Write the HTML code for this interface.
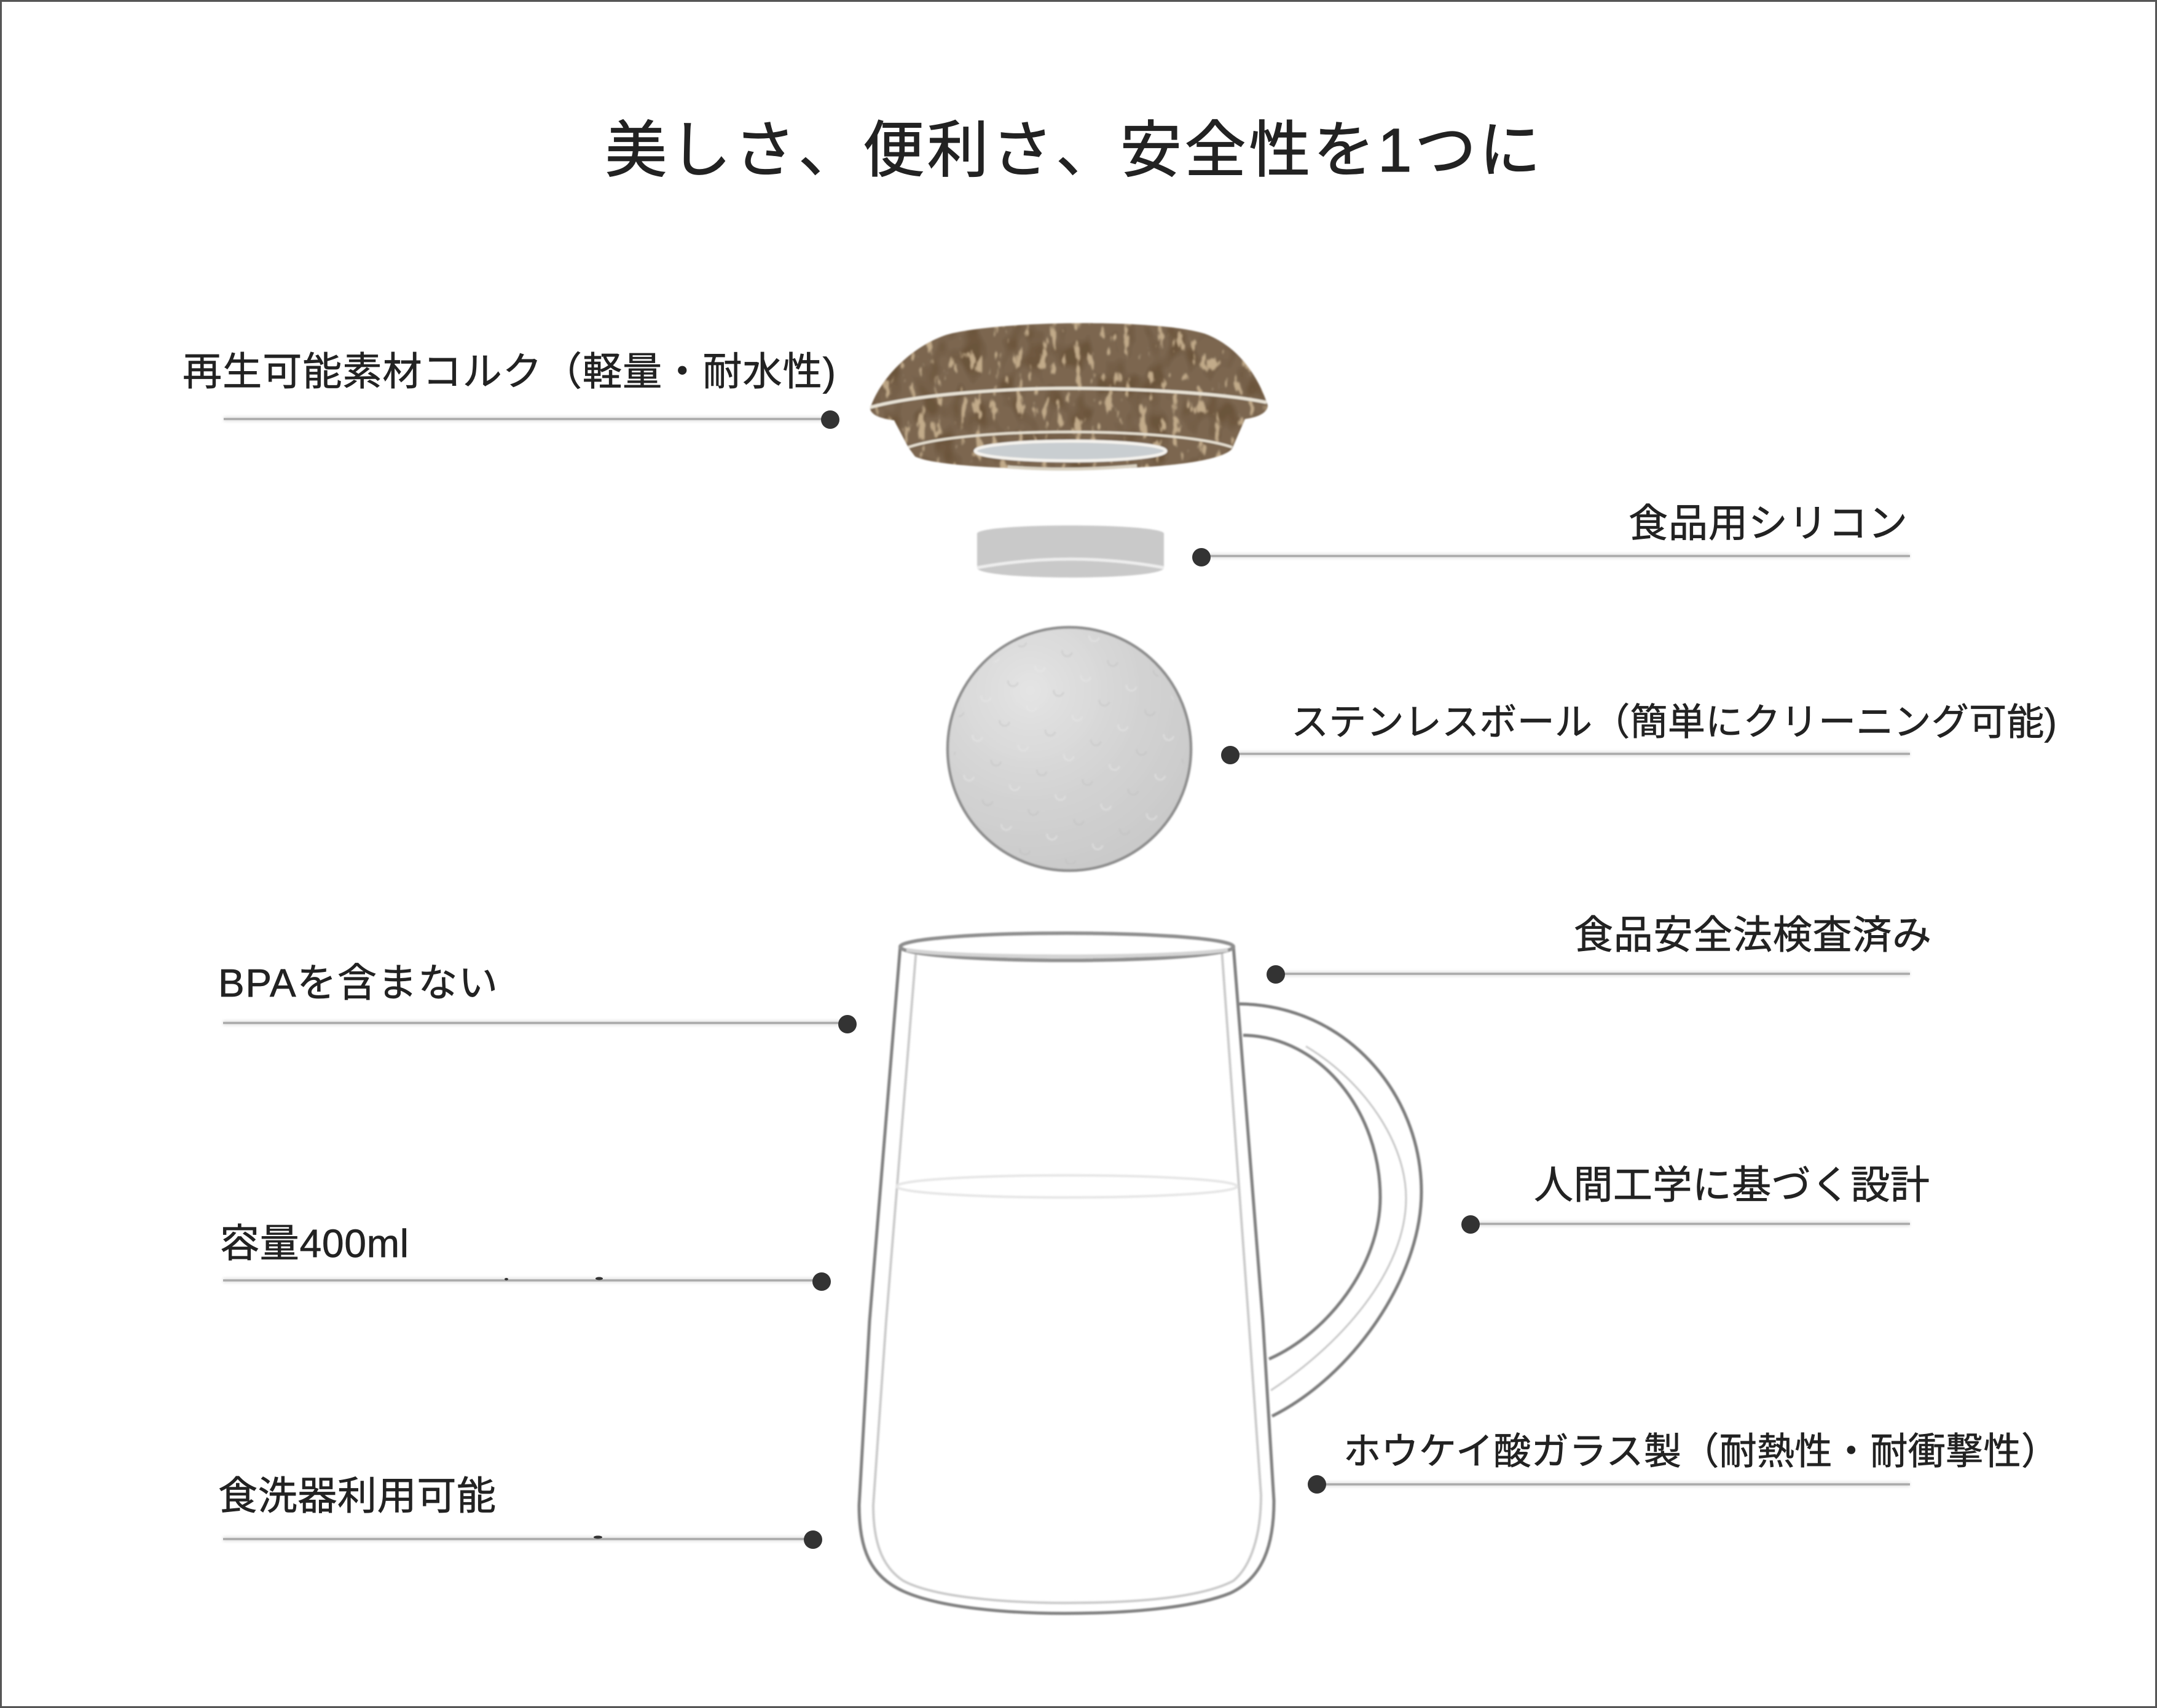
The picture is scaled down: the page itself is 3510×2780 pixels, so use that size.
<!DOCTYPE html>
<html lang="ja">
<head>
<meta charset="utf-8">
<title>美しさ、便利さ、安全性を1つに</title>
<style>
html,body{margin:0;padding:0;background:#fff;width:3510px;height:2780px;overflow:hidden}
svg{display:block}
text{font-family:"Liberation Sans","Noto Sans CJK JP",sans-serif;fill:#222;stroke:#222;stroke-width:.7px}
</style>
</head>
<body>
<svg xmlns="http://www.w3.org/2000/svg" width="3510" height="2780" viewBox="0 0 3510 2780">
<defs>
<filter id="soft" x="-5%" y="-5%" width="110%" height="110%"><feGaussianBlur stdDeviation="1.2"/></filter>
<filter id="halo" x="-1%" y="-400%" width="102%" height="900%"><feGaussianBlur stdDeviation="2.5"/></filter>
<filter id="fleck" x="0" y="0" width="100%" height="100%" color-interpolation-filters="sRGB">
<feTurbulence type="fractalNoise" baseFrequency="0.075 0.028" numOctaves="3" seed="11"/>
<feColorMatrix type="matrix" values="0 0 0 0 .76  0 0 0 0 .67  0 0 0 0 .54  12 0 0 0 -7.4"/>
<feGaussianBlur stdDeviation="1"/>
</filter>
<filter id="dark" x="0" y="0" width="100%" height="100%" color-interpolation-filters="sRGB">
<feTurbulence type="fractalNoise" baseFrequency="0.03 0.02" numOctaves="2" seed="4"/>
<feColorMatrix type="matrix" values="0 0 0 0 .42  0 0 0 0 .33  0 0 0 0 .23  0 4 0 0 -1.9"/>
</filter>
<clipPath id="lidclip"><path d="M1416 665C1430 620 1480 565 1540 545C1620 522 1880 518 1960 543C2020 565 2050 620 2063 660C2062 675 2040 680 2026 682L2005 730C1990 750 1900 762 1760 764C1640 764 1520 758 1489 743L1478 728L1455 684C1440 682 1418 678 1416 665Z"/></clipPath>
<radialGradient id="ball" cx="34%" cy="26%" r="80%">
<stop offset="0" stop-color="#e4e4e4"/><stop offset=".55" stop-color="#d3d3d3"/><stop offset="1" stop-color="#c9c9c9"/>
</radialGradient>
<pattern id="dimple" width="76" height="66" patternUnits="userSpaceOnUse" patternTransform="rotate(12)">
<path d="M11 16a8 8 0 0 0 16 0" fill="none" stroke="#bdbdbd" stroke-width="3" opacity=".4"/>
<path d="M49 49a8 8 0 0 0 16 0" fill="none" stroke="#e8e8e8" stroke-width="3" opacity=".5"/>
</pattern>
</defs>

<rect width="3510" height="2780" fill="#fff"/>
<rect x="1.5" y="1.5" width="3507" height="2777" fill="none" stroke="#555" stroke-width="3"/>

<!-- title -->
<text x="985" y="279" font-size="100" textLength="1522" lengthAdjust="spacing" style="stroke-width:1.3px">美しさ、便利さ、安全性を1つに</text>

<!-- lid -->
<g filter="url(#soft)">
<path d="M1416 665C1430 620 1480 565 1540 545C1620 522 1880 518 1960 543C2020 565 2050 620 2063 660C2062 675 2040 680 2026 682L2005 730C1990 750 1900 762 1760 764C1640 764 1520 758 1489 743L1478 728L1455 684C1440 682 1418 678 1416 665Z" fill="#7b6650"/>
<g clip-path="url(#lidclip)">
<rect x="1400" y="510" width="680" height="270" filter="url(#dark)"/>
<rect x="1400" y="510" width="680" height="270" filter="url(#fleck)"/>
</g>
<path d="M1416 663C1500 640 1650 632 1740 632C1850 632 1990 640 2061 655" fill="none" stroke="#e9e3d6" stroke-width="5"/>
<path d="M1478 728C1530 710 1640 703 1740 703C1850 703 1960 712 2005 728" fill="none" stroke="#e6dfd0" stroke-width="4"/>
<ellipse cx="1742" cy="734" rx="155" ry="16" fill="#c9ced1" stroke="#f5f3ee" stroke-width="5"/>
<path d="M1640 760Q1742 768 1850 758" fill="none" stroke="#d9d2c2" stroke-width="5"/>
</g>

<!-- silicone -->
<g filter="url(#soft)">
<path d="M1590 868C1600 851 1884 851 1894 868L1894 925C1884 945 1600 945 1590 925Z" fill="#c9c9c9"/>
<path d="M1590 924Q1742 896 1894 924" fill="none" stroke="#ededed" stroke-width="5"/>
</g>

<!-- stainless ball -->
<g filter="url(#soft)">
<circle cx="1740" cy="1219" r="198" fill="url(#ball)" stroke="#8e8e8e" stroke-width="4.5"/>
<circle cx="1740" cy="1219" r="188" fill="url(#dimple)"/>
</g>

<!-- mug -->
<g fill="none" filter="url(#soft)">
<path d="M1491 1545L1442 2150L1421 2450C1421 2510 1435 2550 1470 2573C1520 2600 1640 2609 1733 2609C1830 2609 1950 2603 2007 2573C2035 2550 2052 2500 2052 2433L2032 2150L1988 1545" stroke="#cacaca" stroke-width="4"/>
<path d="M1465 1540L1415 2150L1398 2450C1398 2520 1415 2565 1470 2590C1530 2617 1640 2626 1733 2626C1830 2626 1940 2618 2002 2593C2055 2568 2073 2515 2073 2443L2055 2150L2007 1540" stroke="#808080" stroke-width="5"/>
<ellipse cx="1736" cy="1541" rx="271" ry="22" stroke="#8e8e8e" stroke-width="6" fill="#fff"/>
<path d="M1475 1546C1560 1560 1900 1560 1998 1546" stroke="#d4d4d4" stroke-width="6"/>
<ellipse cx="1736" cy="1931" rx="277" ry="18" stroke="#e6e6e6" stroke-width="4"/>
<path d="M2017 1634C2190 1636 2313 1780 2313 1940C2313 2080 2200 2240 2070 2305" stroke="#7c7c7c" stroke-width="5"/>
<path d="M2023 1685C2150 1687 2246 1810 2246 1949C2246 2060 2160 2170 2065 2212" stroke="#7c7c7c" stroke-width="5"/>
<path d="M2125 1703C2220 1760 2288 1860 2288 1950C2288 2070 2180 2190 2068 2263" stroke="#c8c8c8" stroke-width="3"/>
</g>

<!-- leader halo -->
<g stroke="#e3e3e3" stroke-width="8" filter="url(#halo)">
<line x1="364" y1="682" x2="1350" y2="682"/>
<line x1="1954" y1="905" x2="3108" y2="905"/>
<line x1="2002" y1="1227" x2="3108" y2="1227"/>
<line x1="2076" y1="1585" x2="3108" y2="1585"/>
<line x1="363" y1="1665" x2="1379" y2="1665"/>
<line x1="2393" y1="1992" x2="3108" y2="1992"/>
<line x1="363" y1="2084" x2="1337" y2="2084"/>
<line x1="2143" y1="2416" x2="3108" y2="2416"/>
<line x1="363" y1="2505" x2="1323" y2="2505"/>
</g>
<!-- leader lines -->
<g stroke="#aaa" stroke-width="3.5">
<line x1="364" y1="682" x2="1350" y2="682"/>
<line x1="1954" y1="905" x2="3108" y2="905"/>
<line x1="2002" y1="1227" x2="3108" y2="1227"/>
<line x1="2076" y1="1585" x2="3108" y2="1585"/>
<line x1="363" y1="1665" x2="1379" y2="1665"/>
<line x1="2393" y1="1992" x2="3108" y2="1992"/>
<line x1="363" y1="2084" x2="1337" y2="2084"/>
<line x1="2143" y1="2416" x2="3108" y2="2416"/>
<line x1="363" y1="2505" x2="1323" y2="2505"/>
</g>
<g fill="#333">
<circle cx="1351" cy="683" r="15"/>
<circle cx="1955" cy="907" r="15"/>
<circle cx="2002" cy="1229" r="15"/>
<circle cx="2076" cy="1586" r="15"/>
<circle cx="1379" cy="1667" r="15"/>
<circle cx="2393" cy="1993" r="15"/>
<circle cx="1337" cy="2086" r="15"/>
<circle cx="2143" cy="2416" r="15"/>
<circle cx="1323" cy="2506" r="15"/>
<ellipse cx="824" cy="2082" rx="3" ry="2"/>
<ellipse cx="975" cy="2081" rx="6" ry="2.5"/>
<ellipse cx="973" cy="2502" rx="7" ry="2.5"/>
</g>

<!-- labels -->
<g font-size="64">
<text x="297" y="627" textLength="1063" lengthAdjust="spacing">再生可能素材コルク（軽量・耐水性)</text>
<text x="2650" y="874" textLength="454" lengthAdjust="spacing">食品用シリコン</text>
<text x="2561" y="1544" textLength="582" lengthAdjust="spacing">食品安全法検査済み</text>
<text x="355" y="1622" textLength="455" lengthAdjust="spacing">BPAを含まない</text>
<text x="2496" y="1951" textLength="644" lengthAdjust="spacing">人間工学に基づく設計</text>
<text x="358" y="2046" textLength="307" lengthAdjust="spacing">容量400ml</text>
<text x="355" y="2457" textLength="452" lengthAdjust="spacing">食洗器利用可能</text>
</g>
<g font-size="61">
<text x="2101" y="1196" textLength="1246" lengthAdjust="spacing">ステンレスボール（簡単にクリーニング可能)</text>
<text x="2186" y="2383" textLength="1164" lengthAdjust="spacing">ホウケイ酸ガラス製（耐熱性・耐衝撃性）</text>
</g>
</svg>
</body>
</html>
